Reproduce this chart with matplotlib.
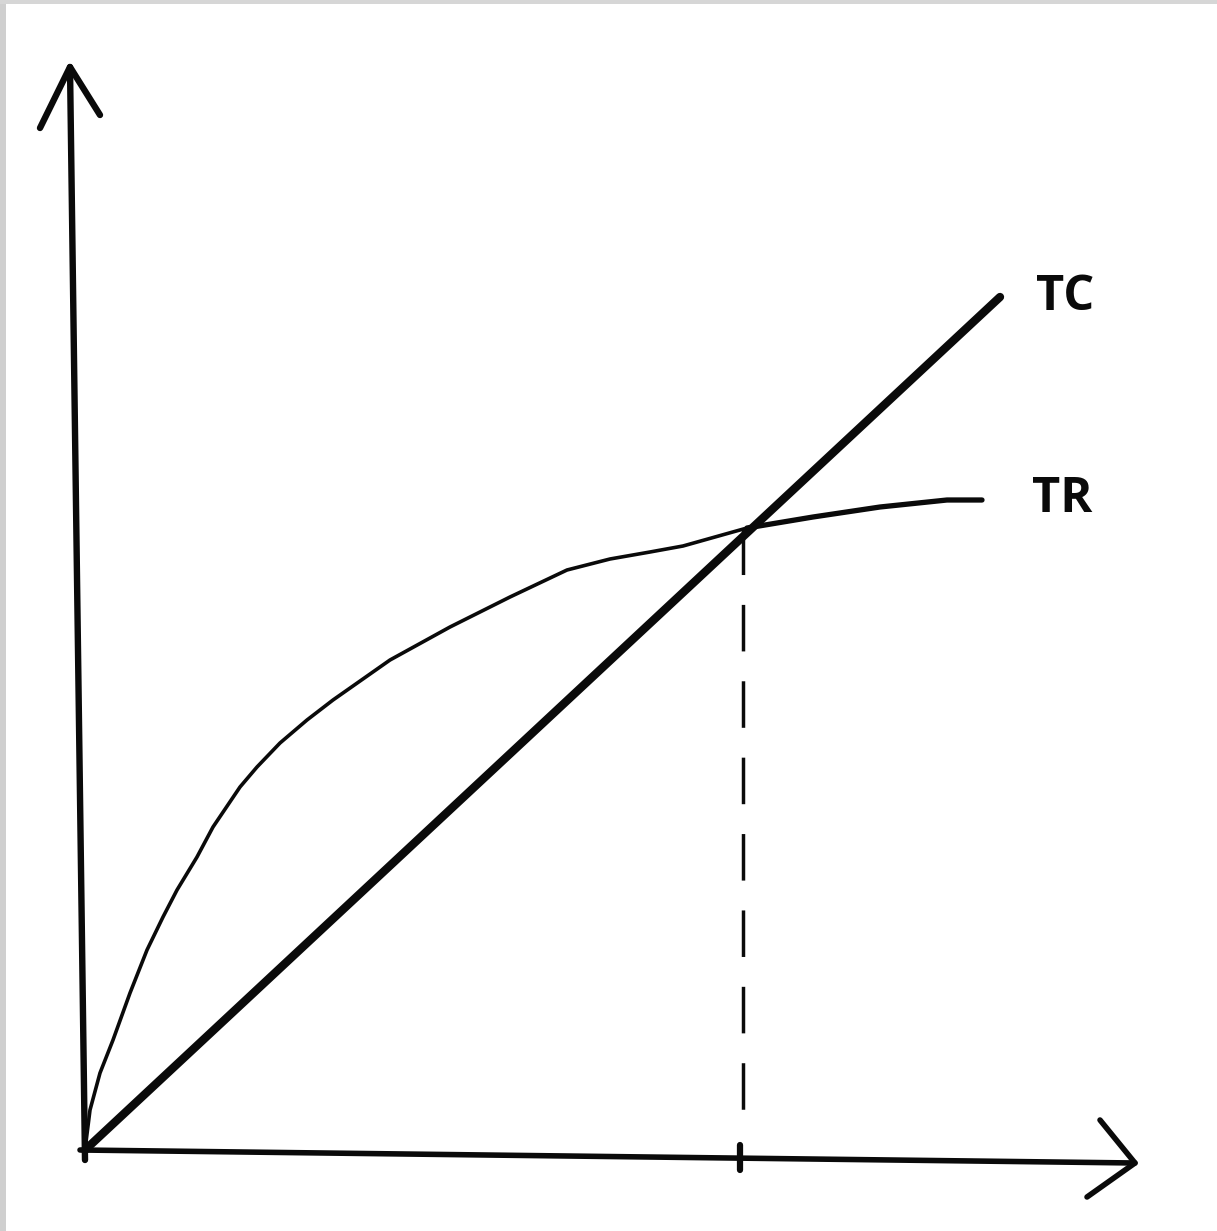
import matplotlib
matplotlib.use('Agg')
import matplotlib.pyplot as plt
from matplotlib.patches import Rectangle

# quantity / value (origin = where the axes meet)
TC_Q = [0.0, 9.15]
TC_V = [0.0, 8.53]

TR_Q = [0.0, 0.05, 0.15, 0.28, 0.45, 0.62, 0.78, 0.92, 1.12, 1.28, 1.55,
        1.72, 1.95, 2.22, 2.48, 3.05, 3.65, 4.25, 4.82, 5.25, 5.65, 5.98,
        6.62, 7.28, 7.95, 8.62, 8.97]
TR_V = [0.0, 0.40, 0.77, 1.10, 1.57, 2.00, 2.33, 2.60, 2.93, 3.23, 3.63,
        3.83, 4.07, 4.30, 4.50, 4.90, 5.23, 5.53, 5.80, 5.91, 5.98, 6.04,
        6.22, 6.33, 6.43, 6.50, 6.50]

# break-even quantity and the value where the curves cross
Q_STAR = 6.58
V_STAR = 6.22

# hand drawn axes
YAXIS_Q = [0.0, -0.15]
YAXIS_V = [-0.10, 10.83]
XAXIS_Q = [-0.05, 10.50]
XAXIS_V = [0.0, -0.13]

fig = plt.figure(figsize=(12.17, 12.31), dpi=100)
fig.patch.set_facecolor('white')
ax = fig.add_axes([0, 0, 1, 1])
ax.set_xlim(-0.85, 11.32)
ax.set_ylim(-0.81, 11.50)
ax.axis('off')

ink = '#0a0a0a'

# axes with arrowheads
ax.plot(YAXIS_Q, YAXIS_V, color=ink, lw=4.6, solid_capstyle='round')
ax.plot([-0.45, YAXIS_Q[-1], 0.15], [10.22, YAXIS_V[-1], 10.35],
        color=ink, lw=4.6, solid_capstyle='round', solid_joinstyle='round')
ax.plot(XAXIS_Q, XAXIS_V, color=ink, lw=4.0, solid_capstyle='round')
ax.plot([10.15, XAXIS_Q[-1], 10.02], [0.30, XAXIS_V[-1], -0.47],
        color=ink, lw=4.0, solid_capstyle='round', solid_joinstyle='round')

# total cost and total revenue
ax.plot(TC_Q, TC_V, color=ink, lw=6.0, solid_capstyle='round')
ax.plot(TR_Q, TR_V, color=ink, lw=2.6, solid_capstyle='round',
        solid_joinstyle='round')
ax.plot(TR_Q[-5:], TR_V[-5:], color=ink, lw=3.8, solid_capstyle='round',
        solid_joinstyle='round')

# dashed drop to the quantity axis + tick
ln, = ax.plot([Q_STAR, Q_STAR], [V_STAR, 0.22], color=ink, lw=2.5)
ln.set_dashes((13.4, 8.6))
ax.plot([Q_STAR - 0.03, Q_STAR - 0.03], [0.05, -0.20], color=ink, lw=4.5,
        solid_capstyle='round')

# labels
ax.text(TC_Q[-1] + 0.65, TC_V[-1], 'TC', fontsize=35, fontweight='bold',
        family=['Open Sans', 'DejaVu Sans'], ha='center', va='center', color=ink)
ax.text(TR_Q[-1] + 0.80, TR_V[-1], 'TR', fontsize=35, fontweight='bold',
        family=['Open Sans', 'DejaVu Sans'], ha='center', va='center', color=ink)

# scanned page edges
fig.patches.append(Rectangle((0, 0), 6 / 1217, 1, transform=fig.transFigure,
                             facecolor='#cfcfcf', edgecolor='none', zorder=-1))
fig.patches.append(Rectangle((0, 1 - 4 / 1231), 1, 4 / 1231, transform=fig.transFigure,
                             facecolor='#d6d6d6', edgecolor='none', zorder=-1))

fig.savefig('out.png', dpi=100, facecolor=fig.get_facecolor())
